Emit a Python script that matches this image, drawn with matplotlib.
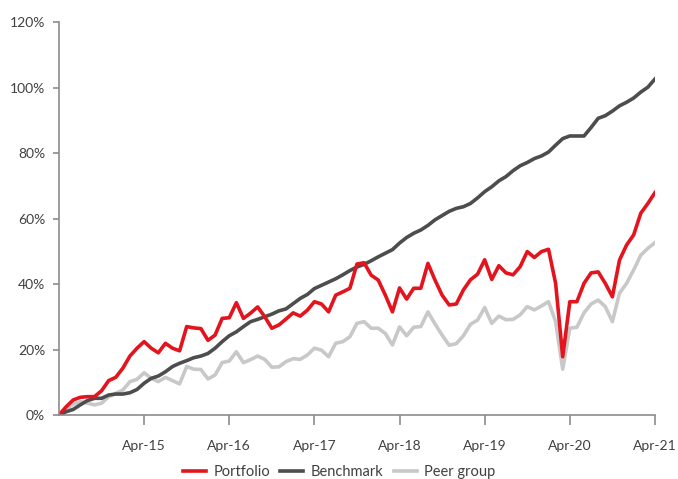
import pandas as pd
import matplotlib.pyplot as plt
from matplotlib.ticker import PercentFormatter

plt.rcParams['font.family'] = ['Lato', 'DejaVu Sans']

# monthly cumulative returns (%), Apr-14 .. Apr-21
months = pd.date_range('2014-04-30', periods=85, freq='ME')

portfolio = [0, 2.5, 4.6, 5.4, 5.6, 5.6, 7.4, 10.5, 11.5, 14.3,
             18.0, 20.4, 22.4, 20.4, 19.0, 21.9, 20.4, 19.6, 27.0, 26.6,
             26.4, 22.8, 24.4, 29.5, 29.7, 34.3, 29.5, 31.1, 33.0, 30.0,
             26.5, 27.5, 29.3, 31.2, 30.2, 32.0, 34.6, 33.9, 31.5, 36.6,
             37.6, 38.7, 46.1, 46.5, 42.7, 41.2, 36.6, 31.5, 38.8, 35.4,
             38.7, 38.7, 46.3, 41.2, 36.6, 33.6, 33.9, 38.2, 41.3, 43.0,
             47.4, 41.4, 45.6, 43.4, 42.8, 45.3, 49.9, 48.1, 49.9, 50.6,
             40.2, 17.8, 34.6, 34.6, 40.2, 43.4, 43.7, 40.2, 36.1, 47.3,
             51.9, 55.0, 61.6, 64.6, 67.9]

benchmark = [0, 1.0, 1.7, 3.1, 4.4, 5.1, 5.1, 6.1, 6.4, 6.4,
             6.8, 7.8, 9.7, 11.2, 11.9, 13.2, 14.8, 15.8, 16.6, 17.5,
             18.0, 18.8, 20.4, 22.4, 24.2, 25.4, 27.0, 28.5, 29.2, 30.0,
             30.8, 31.8, 32.4, 34.0, 35.6, 36.8, 38.6, 39.6, 40.6, 41.6,
             42.8, 44.1, 45.2, 46.0, 47.1, 48.3, 49.4, 50.5, 52.5, 54.2,
             55.5, 56.5, 57.9, 59.6, 60.9, 62.2, 63.1, 63.6, 64.6, 66.3,
             68.2, 69.7, 71.5, 72.8, 74.6, 76.1, 77.1, 78.3, 79.1, 80.3,
             82.4, 84.4, 85.2, 85.2, 85.2, 87.8, 90.6, 91.4, 92.8, 94.4,
             95.5, 96.8, 98.6, 100.1, 102.6]

peer_group = [0, 1.8, 3.3, 4.1, 3.6, 3.1, 3.6, 5.6, 6.6, 7.6,
              10.2, 10.9, 12.9, 11.2, 10.2, 11.5, 10.5, 9.5, 14.8, 14.0,
              13.9, 11.0, 12.2, 16.0, 16.5, 19.3, 16.0, 16.9, 18.0, 17.0,
              14.6, 14.7, 16.3, 17.2, 17.0, 18.3, 20.4, 19.8, 17.8, 21.9,
              22.4, 23.9, 28.0, 28.5, 26.5, 26.5, 24.9, 21.4, 26.9, 24.2,
              26.8, 27.0, 31.5, 27.8, 24.4, 21.3, 21.8, 24.2, 27.7, 29.0,
              32.8, 28.0, 30.2, 29.1, 29.2, 30.6, 33.1, 32.1, 33.3, 34.6,
              28.5, 14.0, 26.5, 26.8, 31.2, 33.9, 35.1, 33.1, 28.5, 37.2,
              40.2, 44.3, 48.8, 50.9, 52.6]

x = list(range(len(months)))
tick_pos = [i for i, m in enumerate(months) if m.month == 4 and i > 0]
tick_labels = [m.strftime('%b-%y') for m in months[tick_pos]]

fig = plt.figure(figsize=(6.78, 4.79), dpi=100)
ax = fig.add_axes([0.087, 0.1336, 0.879, 0.8204])

ax.plot(x, peer_group, color='#c8c8c8', lw=2.6, label='Peer group')
ax.plot(x, benchmark, color='#4d4d4d', lw=2.6, label='Benchmark')
ax.plot(x, portfolio, color='#e3141e', lw=2.6, label='Portfolio')

ax.set_xlim(0, 84)
ax.set_ylim(0, 120)
ax.set_yticks(range(0, 121, 20))
ax.yaxis.set_major_formatter(PercentFormatter(decimals=0))
ax.set_xticks(tick_pos)
ax.set_xticklabels(tick_labels)

for s in ['top', 'right']:
    ax.spines[s].set_visible(False)
for s in ['left', 'bottom']:
    ax.spines[s].set_color('#8c8c8c')
    ax.spines[s].set_linewidth(1.2)

ax.tick_params(axis='x', length=7, width=1.2, color='#8c8c8c', pad=11,
               labelsize=10, labelcolor='#404040')
ax.tick_params(axis='y', length=4, width=1.2, color='#8c8c8c', pad=6,
               labelsize=10, labelcolor='#404040')

handles, labels = ax.get_legend_handles_labels()
order = [2, 1, 0]
fig.legend([handles[i] for i in order], [labels[i] for i in order],
           loc='center', bbox_to_anchor=(0.5, 0.014), ncol=3, frameon=False,
           fontsize=10.5, handlelength=1.6, handletextpad=0.5,
           columnspacing=0.7, labelcolor='#404040')

fig.savefig('out.png', dpi=100)
